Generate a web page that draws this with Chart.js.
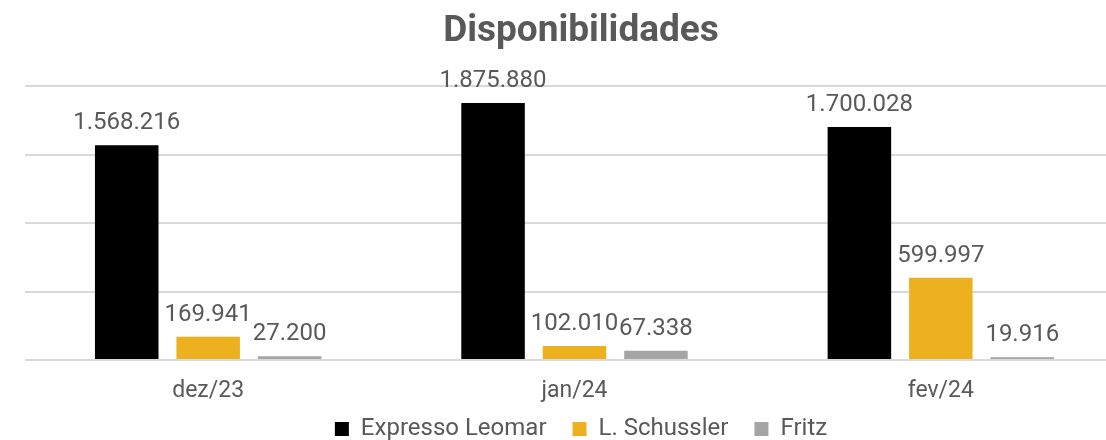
<!DOCTYPE html>
<html>
<head>
<meta charset="utf-8">
<script src="https://cdn.jsdelivr.net/npm/chart.js@4/dist/chart.umd.min.js"></script>
<style>
  html, body { margin: 0; padding: 0; overflow: hidden; background: #fff; }
  #wrap { width: 1162px; height: 451px; position: relative; }
</style>
</head>
<body>
<div id="wrap"><canvas id="c"></canvas></div>
<script>
const categories = ['dez/23', 'jan/24', 'fev/24'];
const expressoLeomar = [1568216, 1875880, 1700028];
const lSchussler = [169941, 102010, 599997];
const fritz = [27200, 67338, 19916];
const seriesNames = ['Expresso Leomar', 'L. Schussler', 'Fritz'];
const title = 'Disponibilidades';

const TEXT = '#595959';
Chart.defaults.font.family = 'Roboto, "Open Sans", sans-serif';
Chart.defaults.color = TEXT;

function fmt(v) {
  return String(v).replace(/\B(?=(\d{3})+(?!\d))/g, '.');
}

const labelPlugin = {
  id: 'barLabels',
  beforeDraw(chart) {
    // let x-axis tick labels overflow their (shortened) axis box
    const xs = chart.scales.x;
    if (xs) xs._computeLabelArea = function () { return undefined; };
  },
  afterDatasetsDraw(chart) {
    const ctx = chart.ctx;
    ctx.save();
    ctx.font = '24px Roboto, sans-serif';
    ctx.fillStyle = TEXT;
    ctx.textAlign = 'center';
    ctx.textBaseline = 'alphabetic';
    chart.data.datasets.forEach((ds, i) => {
      const meta = chart.getDatasetMeta(i);
      meta.data.forEach((bar, j) => {
        ctx.fillText(fmt(ds.data[j]), bar.x, bar.y - 16);
      });
    });
    ctx.restore();
  }
};

new Chart(document.getElementById('c'), {
  type: 'bar',
  data: {
    labels: categories,
    datasets: [
      { label: seriesNames[0], data: expressoLeomar, backgroundColor: '#000000' },
      { label: seriesNames[1], data: lSchussler, backgroundColor: '#EDB120' },
      { label: seriesNames[2], data: fritz, backgroundColor: '#A5A5A5' }
    ]
  },
  options: {
    responsive: true,
    maintainAspectRatio: false,
    animation: false,
    layout: { padding: { left: 25, right: 25, top: 0, bottom: 0 } },
    datasets: { bar: { categoryPercentage: 0.667, barPercentage: 0.78 } },
    plugins: {
      title: {
        display: true,
        text: title,
        color: TEXT,
        font: { size: 37, weight: 'bold' },
        padding: { top: 10, bottom: 31.6 }
      },
      legend: {
        position: 'bottom',
        labels: {
          color: TEXT,
          font: { size: 24 },
          boxWidth: 14,
          boxHeight: 14,
          padding: 26
        }
      },
      tooltip: { enabled: false }
    },
    scales: {
      x: {
        grid: { display: false, drawTicks: false },
        border: { display: false },
        ticks: { color: TEXT, font: { size: 23 }, padding: 17 },
        afterFit(scale) { scale.height = 31; }
      },
      y: {
        min: 0,
        max: 2000000,
        ticks: { display: false, stepSize: 500000 },
        grid: { color: '#D9D9D9', lineWidth: 2, drawTicks: false },
        border: { display: false }
      },
      yPad: {
        type: 'linear',
        position: 'right',
        display: true,
        ticks: { display: false },
        grid: { display: false, drawTicks: false },
        border: { display: false },
        afterFit(scale) { scale.width = 13; }
      }
    }
  },
  plugins: [labelPlugin]
});
</script>
</body>
</html>
